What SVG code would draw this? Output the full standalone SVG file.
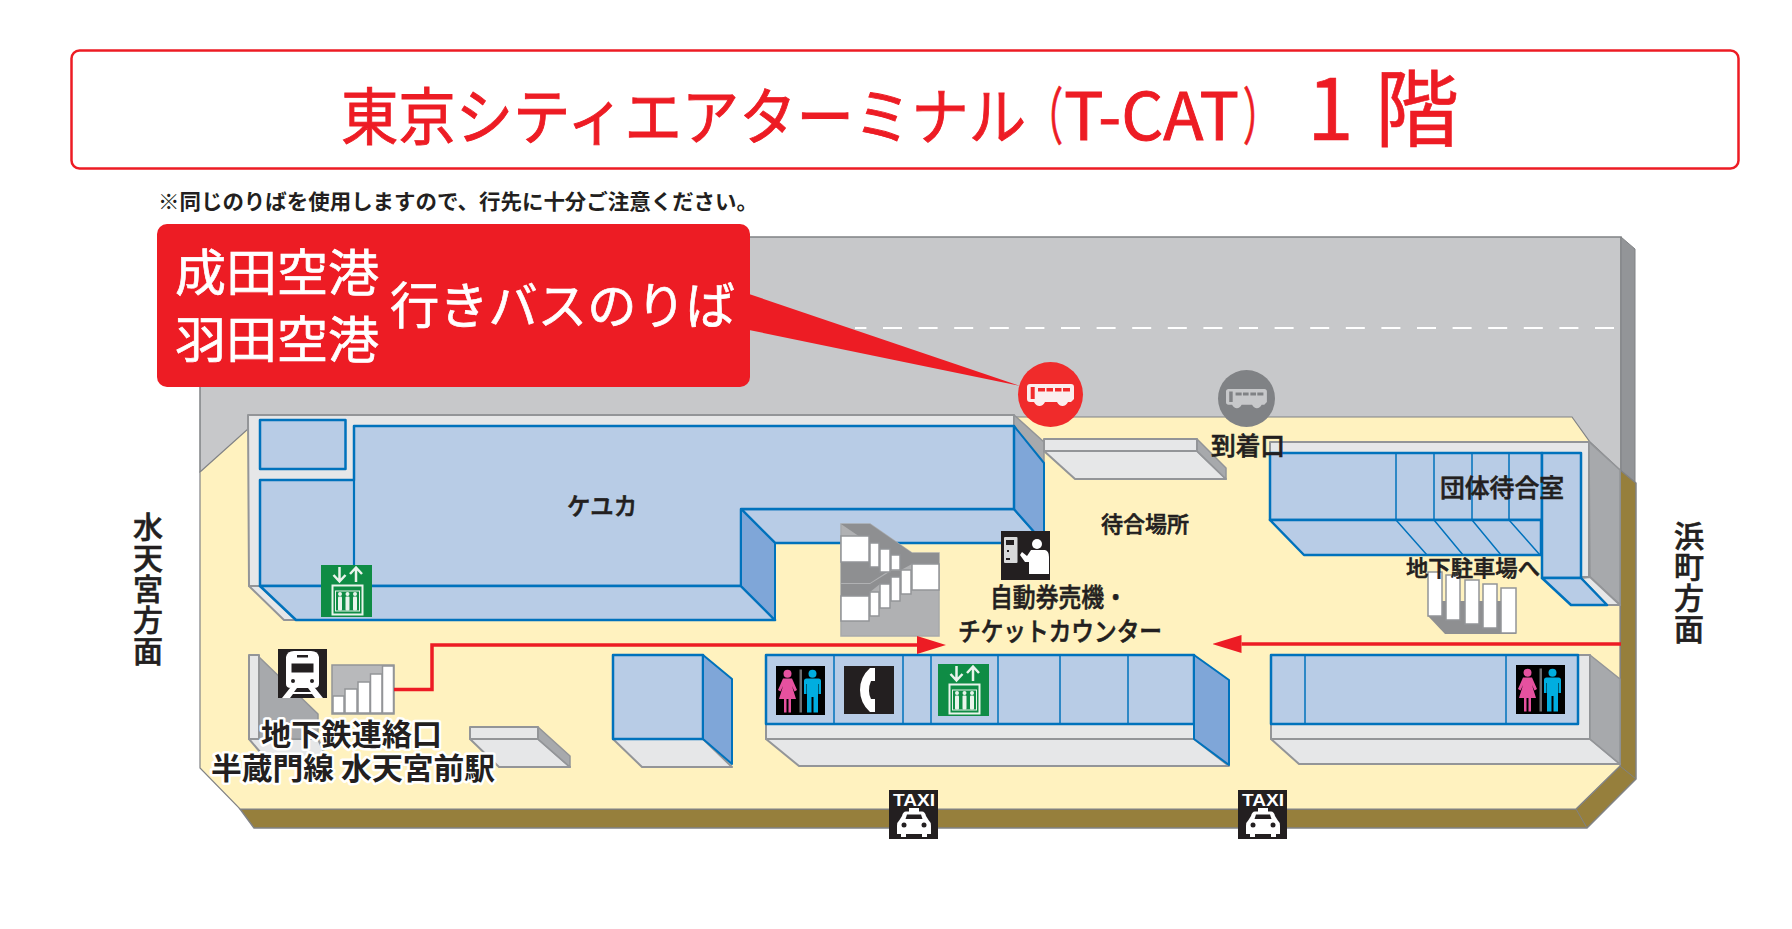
<svg xmlns="http://www.w3.org/2000/svg" width="1792" height="929" viewBox="0 0 1792 929">
<style>
text{font-family:"Noto Sans CJK JP","Noto Sans",sans-serif;fill:#231f20}
.lb{font-weight:500;stroke:#231f20;stroke-width:.6px}
.halo{font-weight:700;paint-order:stroke;stroke:#fff;stroke-width:5px;stroke-linejoin:round}
.ttl{fill:#ed1c24;stroke:#ed1c24;stroke-width:.9px}
.cw{fill:#fff;stroke:#fff;stroke-width:.7px}
.tx{fill:#fff;font-family:"Liberation Sans",sans-serif;font-weight:700}
.red{fill:#ed1c24}
.blue{fill:#b8cce6;stroke:#0072bc;stroke-width:2.5;stroke-linejoin:round}
.bside{fill:#7fa6d8;stroke:#0072bc;stroke-width:2;stroke-linejoin:round}
.light{fill:#e6e7e8;stroke:#939598;stroke-width:2;stroke-linejoin:round}
.gside{fill:#a7a9ac;stroke:#939598;stroke-width:1.5;stroke-linejoin:round}
.step{fill:#fff;stroke:#939598;stroke-width:1.5}
.line{fill:none;stroke:#0072bc;stroke-width:1.5}
.conn{fill:none;stroke:#ed1c24;stroke-width:3.5}
</style>
<defs>
<marker id="ah" markerUnits="userSpaceOnUse" viewBox="0 0 29 18" refX="0" refY="9" markerWidth="29" markerHeight="18" orient="auto"><path d="M0 0L29 9L0 18Z" fill="#ed1c24"/></marker>
<path id="bus" fill-rule="evenodd" d="M3 0H44Q47 0 47 3V15L44 18H41Q39 22 35.500 22Q32 22 30 18H18Q16 22 12.500 22Q9 22 7 18H3Q0 18 0 15V3Q0 0 3 0ZM3.700 3V15H7.700V3ZM11 4V7.500H18V4ZM19.500 4V7.500H26V4ZM28 4V7.500H34.500V4ZM36 4V7.500H43V4Z"/>
<g id="toilet">
<rect width="49" height="49" fill="#000"/>
<rect x="23.500" y="3.500" width="2.500" height="43" fill="#6d6e71"/>
<circle cx="11.500" cy="7.700" r="4" fill="#e6519f"/>
<path fill="#e6519f" d="M7 12.500H16L21 24L18.500 25.500L16 20L20 33H15V46.500H12.500V33H10.500V46.500H8V33H3L7 20L4.500 25.500L2 24Z"/>
<circle cx="36.500" cy="7.700" r="4" fill="#00aee0"/>
<path fill="#00aee0" d="M30.500 12.500H42.500Q45 12.500 45 15V28H42.500V18H42V30V46.500H37.500V31H35.500V46.500H31V30V18H30.500V28H28V15Q28 12.500 30.500 12.500Z"/>
</g>
<g id="elev">
<rect width="51" height="52" fill="#0f8c45"/>
<path d="M18.500 2V16M12.500 10L18.500 16.500L24.500 10M35 17V3M29 9L35 2.500L41 9" fill="none" stroke="#eaf4ec" stroke-width="2.500"/>
<rect x="11.500" y="20.500" width="30" height="29" fill="none" stroke="#eaf4ec" stroke-width="2"/>
<rect x="14.500" y="26" width="24" height="20" fill="none" stroke="#eaf4ec" stroke-width="1"/>
<g fill="#eaf4ec">
<circle cx="19" cy="29" r="2"/><rect x="17" y="31.500" width="4" height="14" rx="1"/>
<circle cx="26.500" cy="29" r="2"/><rect x="24.500" y="31.500" width="4" height="14" rx="1"/>
<circle cx="34" cy="29" r="2"/><rect x="32" y="31.500" width="4" height="14" rx="1"/>
</g>
</g>
<g id="car">
<path fill="#fff" d="M20 18H30V21.500H33Q36 21.500 37 26L39.500 30Q42 32 42 36V44H38V47H33V44H17V47H12V44H8V36Q8 32 10.500 30L13 26Q14 21.500 17 21.500H20Z"/>
<path fill="#231f20" d="M16.500 29L18 24.500H32L33.500 29Z"/>
<circle cx="15" cy="35" r="2.500" fill="#231f20"/><circle cx="35" cy="35" r="2.500" fill="#231f20"/>
</g>
</defs>
<rect width="1792" height="929" fill="#fff"/>

<g id="title">
<rect x="71.500" y="50.500" width="1667" height="118" rx="8" fill="#fff" stroke="#ed1c24" stroke-width="2.500"/>
<text class="ttl" x="341" y="140" font-size="62"><tspan textLength="685" lengthAdjust="spacingAndGlyphs">東京シティエアターミナル</tspan><tspan x="1027" textLength="36" lengthAdjust="spacingAndGlyphs">（</tspan><tspan x="1064" font-size="66" textLength="175" lengthAdjust="spacingAndGlyphs">T-CAT</tspan><tspan x="1243" textLength="36" lengthAdjust="spacingAndGlyphs">）</tspan></text>
<text class="ttl" x="1307 1375" y="140" font-size="84" style="stroke-width:.6px">1階</text>
</g>
<g id="note"><text x="158" y="209" font-size="21" font-weight="700" textLength="600" lengthAdjust="spacingAndGlyphs">※同じのりばを使用しますので、行先に十分ご注意ください。</text></g>

<g id="map" transform="translate(0 1)">
<g id="road">
<path d="M200 236H1621V471L200 471Z" fill="#c7c8ca" stroke="#808285" stroke-width="1.500"/>
<path d="M1621 236L1635 248V482L1621 470Z" fill="#939598" stroke="#808285" stroke-width="1"/>
<path d="M1614 327H855" fill="none" stroke="#fff" stroke-width="2" stroke-dasharray="19 16.600"/>
</g>

<g id="floor">
<path d="M1620 469L1636 482V778L1587 827H254L240 808H1576L1620 765Z" fill="#967f3c" stroke="#808285" stroke-width="1.500"/>
<path d="M1620 765L1636 778M1576 808L1587 827" fill="none" stroke="#808285" stroke-width="1"/>
<path d="M200 471L248 428V416H1572L1590 441L1620 469V765L1576 808H240L200 767Z" fill="#fff2bf" stroke="#808285" stroke-width="1.200"/>
</g>

<g id="keyuka">
<path class="light" d="M248 414H1014V425H354V585H249Z"/>
<path class="light" d="M249 585L284 619H296L260 585Z"/>
<path class="gside" d="M1014 414L1044 441V462L1014 425Z"/>
<rect class="blue" x="260" y="419" width="85.500" height="49"/>
<path class="blue" d="M741 508L1014 508L1044 542H775Z"/>
<path class="bside" d="M1014 425L1044 462V542L1014 508Z"/>
<path class="blue" d="M260 479H354V425H1014V508H741V585H260Z"/>
<path class="line" style="stroke-width:2.200" d="M354 479V585"/>
<path class="blue" d="M260 585H741L775 619H296Z"/>
<path class="bside" d="M741 508L775 542V619L741 585Z"/>
<text class="lb" x="567" y="513.500" font-size="24" textLength="70" lengthAdjust="spacingAndGlyphs">ケユカ</text>
</g>

<g id="elevator-1"><use href="#elev" x="321" y="564"/></g>

<g id="waiting-block">
<path class="light" d="M1044 450H1197L1226 478H1075Z"/>
<path class="gside" d="M1197 438L1226 467V478L1197 450Z"/>
<rect class="light" x="1044" y="438" width="153" height="12"/>
</g>

<g id="stairs-center">
<path d="M841 523H870L912 552H939V635H841Z" fill="#b0b1b3" stroke="#a7a9ac" stroke-width="1.500"/>
<path d="M841 523H870L912 552H939V563H912L901 569H890L870 582H841V561H869V542Z" fill="#8e8f91"/>
<path d="M841 583H870L891 570H901V593H880V583L870 591V595H841Z" fill="#8e8f91"/>
<rect class="step" x="841" y="535" width="28" height="26"/>
<rect class="step" x="870" y="542" width="9" height="24"/>
<rect class="step" x="880" y="548" width="10" height="23"/>
<rect class="step" x="891" y="554" width="9" height="15"/>
<rect class="step" x="901" y="569" width="10" height="24"/>
<rect class="step" x="912" y="563" width="27" height="26"/>
<rect class="step" x="891" y="576" width="9" height="24"/>
<rect class="step" x="880" y="583" width="10" height="24"/>
<rect class="step" x="870" y="591" width="9" height="24"/>
<rect class="step" x="841" y="595" width="28" height="25"/>
</g>

<g id="ticket-machine">
<rect x="1001" y="530" width="49" height="49" fill="#231f20"/>
<rect x="1004" y="536" width="13.500" height="26" rx="1" fill="#d9dadb"/>
<rect x="1006" y="539" width="8" height="5" fill="#231f20"/>
<rect x="1007" y="549" width="2" height="2" fill="#231f20"/><rect x="1006" y="557" width="4" height="2" fill="#231f20"/>
<circle cx="1037" cy="543" r="5" fill="#fff"/>
<path fill="#fff" d="M1031 549H1045Q1049 550 1049 556V573H1029V561H1025L1020 554L1022 551L1027 555Z"/>
<text class="lb" x="990" y="606" font-size="26" textLength="137" lengthAdjust="spacingAndGlyphs">自動券売機・</text>
<text class="lb" x="958" y="640" font-size="26" textLength="204" lengthAdjust="spacingAndGlyphs">チケットカウンター</text>
</g>

<g id="group-room">
<path class="light" d="M1270 441H1589V576H1581V452H1270Z"/>
<path class="gside" d="M1589 441L1620 469V604L1590 576Z"/>
<path class="light" d="M1581 577L1607 604H1620L1590 576Z"/>
<rect class="blue" x="1270" y="452" width="272" height="67"/>
<path class="blue" d="M1270 519H1541L1541 554H1304Z"/>
<path class="blue" d="M1542 452H1581V577H1542Z"/>
<path class="blue" d="M1542 577H1581L1607 604H1571Z"/>
<path class="line" d="M1396 452V519L1427 554M1434 452V519L1463 554M1472 452V519L1501 554M1509 452V519L1540 554"/>
<text class="lb" x="1440" y="496" font-size="25" textLength="124" lengthAdjust="spacingAndGlyphs">団体待合室</text>
</g>

<g id="waiting-area"><text class="lb" x="1101" y="531" font-size="22" textLength="88" lengthAdjust="spacingAndGlyphs">待合場所</text></g>

<g id="parking-stairs">
<path d="M1428 615L1445 633H1516V600H1428Z" fill="#8e8f91"/>
<rect class="step" x="1428" y="571" width="14" height="44"/>
<rect class="step" x="1446" y="574" width="14" height="45"/>
<rect class="step" x="1465" y="579" width="14" height="44"/>
<rect class="step" x="1483" y="583" width="14" height="44"/>
<rect class="step" x="1501" y="587" width="15" height="45"/>
<text class="lb" x="1406" y="575" font-size="22" textLength="134" lengthAdjust="spacingAndGlyphs">地下駐車場へ</text>
</g>

<g id="subway">
<path class="light" d="M249 738L272 765H330L318 738Z"/>
<path class="gside" d="M259 656L318 713V738H259Z"/>
<rect class="light" x="249" y="654" width="10" height="84"/>
<rect x="332" y="664" width="62" height="49" fill="#b8b9bb" stroke="#939598" stroke-width="1.500"/>
<rect class="step" x="333" y="695" width="11" height="17"/>
<rect class="step" x="345" y="688" width="12" height="24"/>
<rect class="step" x="358" y="681" width="12" height="31"/>
<rect class="step" x="370.500" y="673" width="11.500" height="39"/>
<rect class="step" x="382.500" y="665" width="11" height="47"/>
<rect x="278" y="648" width="49" height="49" fill="#231f20"/>
<path fill="#fff" d="M286 656Q287 650 294 650H311Q318 650 319 656V683Q319 687 314 687H291Q286 687 286 683Z"/>
<rect x="291.500" y="662.500" width="22" height="9" fill="#231f20"/>
<rect x="297" y="654" width="11" height="2.500" fill="#231f20"/>
<circle cx="293" cy="680" r="2" fill="#231f20"/><circle cx="312" cy="680" r="2" fill="#231f20"/>
<path fill="#fff" d="M290 687H297L294 691H311L308 687H315L323 697H315L312 693H293L290 697H282Z"/>
<path class="light" d="M470 738H538L570 766H499Z"/>
<path class="gside" d="M538 726L570 755V766L538 738Z"/>
<rect class="light" x="470" y="726" width="68" height="12"/>
<text class="lb halo" x="261" y="744" font-size="30" textLength="181" lengthAdjust="spacingAndGlyphs">地下鉄連絡口</text>
<text class="lb halo" x="211" y="778" font-size="30" textLength="284" lengthAdjust="spacingAndGlyphs">半蔵門線 水天宮前駅</text>
</g>

<g id="block-left">
<path class="light" d="M613 738H703L732 766H642Z"/>
<rect class="blue" x="613" y="654" width="90" height="84"/>
<path class="bside" d="M703 654L732 678V763L703 738Z"/>
</g>

<g id="block-center">
<path class="light" d="M766 738H1194L1229 765H799Z"/>
<rect class="light" x="766" y="654" width="428" height="84"/>
<rect class="blue" x="766" y="654" width="428" height="69"/>
<path class="line" d="M834 654V723M903 654V723M931 654V723M998 654V723M1060 654V723M1128 654V723"/>
<path class="bside" d="M1194 654L1229 679V764L1194 738Z"/>
<use href="#toilet" x="776" y="665"/>
<rect x="844" y="665" width="50" height="48" fill="#231f20"/>
<path fill="#fff" d="M870 667H875V680H871Q869 684 869 690Q869 694 871 698H875V711H870Q860 702 860 689Q860 676 870 667Z"/>
<use href="#elev" x="938" y="663"/>
</g>

<g id="block-right">
<path class="light" d="M1271 738H1590L1620 763H1299Z"/>
<rect class="light" x="1271" y="654" width="319" height="84"/>
<path class="gside" d="M1590 654L1620 678V763L1590 738Z"/>
<rect class="blue" x="1271" y="654" width="307" height="69"/>
<path class="line" d="M1305 654V723M1506 654V723"/>
<use href="#toilet" x="1516" y="664"/>
</g>

<g id="connectors">
<path class="conn" d="M394 688.500H432V644H917" marker-end="url(#ah)"/>
<path class="conn" d="M1621 643H1241.500" marker-end="url(#ah)"/>
</g>

<g id="callout">
<path class="red" d="M749 293L1020 385L749 329Z"/>
<rect class="red" x="157" y="223" width="593" height="163" rx="10"/>
<text class="cw" x="175" y="290" font-size="50" textLength="204" lengthAdjust="spacingAndGlyphs">成田空港</text>
<text class="cw" x="175" y="357" font-size="50" textLength="204" lengthAdjust="spacingAndGlyphs">羽田空港</text>
<text class="cw" x="390" y="323" font-size="50" textLength="345" lengthAdjust="spacingAndGlyphs">行きバスのりば</text>
</g>

<g id="bus-stop">
<circle cx="1050.500" cy="393.500" r="32.500" fill="#f02b2b"/>
<use href="#bus" transform="translate(1027 383)" fill="#fbeeee"/>
</g>
<g id="arrival">
<circle cx="1246.500" cy="397.500" r="28.500" fill="#808285"/>
<use href="#bus" transform="translate(1226 388) scale(.87)" fill="#c7c8ca"/>
<text class="lb" x="1211" y="454" font-size="25" textLength="74" lengthAdjust="spacingAndGlyphs">到着口</text>
</g>

<g id="taxi-1">
<rect x="889" y="789" width="49" height="49" fill="#231f20"/>
<use href="#car" x="889" y="789"/>
<text class="tx" x="893" y="805" font-size="17" textLength="42" lengthAdjust="spacingAndGlyphs">TAXI</text>
</g>
<g id="taxi-2">
<rect x="1238" y="789" width="49" height="49" fill="#231f20"/>
<use href="#car" x="1238" y="789"/>
<text class="tx" x="1242" y="805" font-size="17" textLength="42" lengthAdjust="spacingAndGlyphs">TAXI</text>
</g>

<g id="dir-west"><text x="148" y="511" font-size="30" font-weight="500" letter-spacing="1" class="lb" writing-mode="vertical-rl">水天宮方面</text></g>
<g id="dir-east"><text x="1689" y="520" font-size="30" font-weight="500" letter-spacing="1" class="lb" writing-mode="vertical-rl">浜町方面</text></g>
</g>
</svg>
